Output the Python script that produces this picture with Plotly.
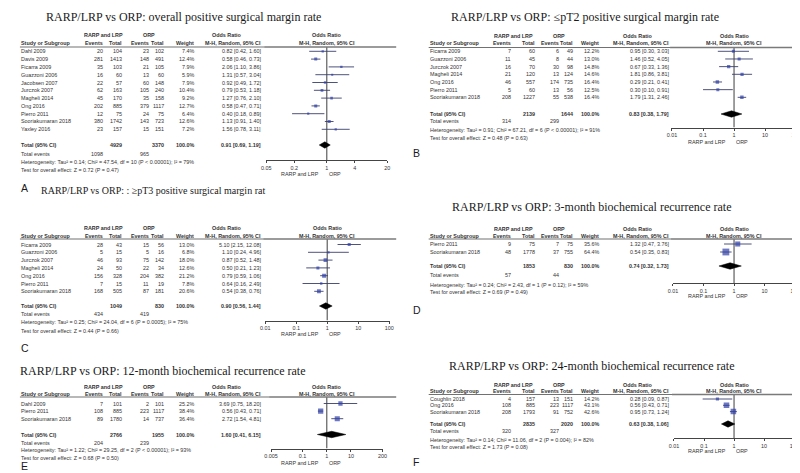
import math
import plotly.graph_objects as go

W, H = 800, 473
SANS = "Liberation Sans, Arial, sans-serif"
SERIF = "Liberation Serif, Times New Roman, serif"
INK = "#333333"
BLUE = "#2f3fa6"
CI_COL = "#3a3f6e"
FS = 5.4

# ========== Data ==========

A_study = ["Dahl 2009", "Davis 2009", "Ficarra 2009", "Guazzoni 2006", "Jacobsen 2007", "Jurczok 2007",
           "Magheli 2014", "Ong 2016", "Pierro 2011", "Sooriakumaran 2018", "Yaxley 2016"]
A_rarp_ev = [20, 281, 35, 16, 22, 62, 45, 202, 12, 380, 23]
A_rarp_n = [104, 1413, 103, 60, 57, 163, 170, 885, 75, 1742, 157]
A_orp_ev = [23, 148, 21, 13, 60, 105, 35, 379, 24, 143, 15]
A_orp_n = [102, 491, 105, 60, 148, 240, 158, 1117, 75, 723, 151]
A_weight = [7.4, 12.4, 7.9, 5.9, 7.9, 10.4, 9.2, 12.7, 6.4, 12.6, 7.2]
A_or = [0.82, 0.58, 2.06, 1.31, 0.92, 0.79, 1.27, 0.58, 0.40, 1.13, 1.56]
A_lo = [0.42, 0.46, 1.10, 0.57, 0.49, 0.53, 0.76, 0.47, 0.18, 0.91, 0.78]
A_hi = [1.60, 0.73, 3.86, 3.04, 1.72, 1.18, 2.10, 0.71, 0.89, 1.40, 3.11]
A_pooled = [0.91, 0.69, 1.19]
A_totals = [4929, 3370]
A_events = [1098, 965]
A_het = "Heterogeneity: Tau² = 0.14; Chi² = 47.54, df = 10 (P < 0.00001); I² = 79%"
A_test = "Test for overall effect: Z = 0.72 (P = 0.47)"
A_ticks = [0.05, 0.2, 1, 4, 20]

B_study = ["Ficarra 2009", "Guazzoni 2006", "Jurczok 2007", "Magheli 2014", "Ong 2016", "Pierro 2011",
           "Sooriakumaran 2018"]
B_rarp_ev = [7, 11, 16, 21, 46, 5, 208]
B_rarp_n = [60, 45, 70, 120, 557, 60, 1227]
B_orp_ev = [6, 8, 30, 13, 174, 13, 55]
B_orp_n = [49, 44, 98, 124, 735, 56, 538]
B_weight = [12.2, 13.0, 14.8, 14.6, 16.4, 12.5, 16.4]
B_or = [0.95, 1.46, 0.67, 1.81, 0.29, 0.30, 1.79]
B_lo = [0.30, 0.52, 0.33, 0.86, 0.21, 0.10, 1.31]
B_hi = [3.03, 4.05, 1.36, 3.81, 0.41, 0.91, 2.46]
B_pooled = [0.83, 0.38, 1.79]
B_totals = [2139, 1644]
B_events = [314, 299]
B_het = "Heterogeneity: Tau² = 0.91; Chi² = 67.21, df = 6 (P < 0.00001); I² = 91%"
B_test = "Test for overall effect: Z = 0.48 (P = 0.63)"
B_ticks = [0.01, 0.1, 1, 10, 100]

C_study = ["Ficarra 2009", "Guazzoni 2006", "Jurczok 2007", "Magheli 2014", "Ong 2016", "Pierro 2011",
           "Sooriakumaran 2018"]
C_rarp_ev = [28, 5, 46, 24, 156, 7, 168]
C_rarp_n = [43, 15, 93, 50, 328, 15, 505]
C_orp_ev = [15, 5, 75, 22, 204, 11, 87]
C_orp_n = [56, 16, 142, 34, 382, 19, 181]
C_weight = [13.0, 6.8, 18.0, 12.6, 21.2, 7.8, 20.6]
C_or = [5.10, 1.10, 0.87, 0.50, 0.79, 0.64, 0.54]
C_lo = [2.15, 0.24, 0.52, 0.21, 0.59, 0.16, 0.38]
C_hi = [12.08, 4.96, 1.48, 1.23, 1.06, 2.49, 0.76]
C_pooled = [0.90, 0.56, 1.44]
C_totals = [1049, 830]
C_events = [434, 419]
C_het = "Heterogeneity: Tau² = 0.25; Chi² = 24.04, df = 6 (P = 0.0005); I² = 75%"
C_test = "Test for overall effect: Z = 0.44 (P = 0.66)"
C_ticks = [0.01, 0.1, 1, 10, 100]

D_study = ["Pierro 2011", "Sooriakumaran 2018"]
D_rarp_ev = [9, 48]
D_rarp_n = [75, 1778]
D_orp_ev = [7, 37]
D_orp_n = [75, 755]
D_weight = [35.6, 64.4]
D_or = [1.32, 0.54]
D_lo = [0.47, 0.35]
D_hi = [3.76, 0.83]
D_pooled = [0.74, 0.32, 1.73]
D_totals = [1853, 830]
D_events = [57, 44]
D_het = "Heterogeneity: Tau² = 0.24; Chi² = 2.43, df = 1 (P = 0.12); I² = 59%"
D_test = "Test for overall effect: Z = 0.69 (P = 0.49)"
D_ticks = [0.01, 0.1, 1, 10, 100]

E_study = ["Dahl 2009", "Pierro 2011", "Sooriakumaran 2018"]
E_rarp_ev = [7, 108, 89]
E_rarp_n = [101, 885, 1780]
E_orp_ev = [2, 223, 14]
E_orp_n = [101, 1117, 737]
E_weight = [25.2, 38.4, 36.4]
E_or = [3.69, 0.56, 2.72]
E_lo = [0.75, 0.43, 1.54]
E_hi = [18.20, 0.71, 4.81]
E_pooled = [1.60, 0.41, 6.15]
E_totals = [2766, 1955]
E_events = [204, 239]
E_het = "Heterogeneity: Tau² = 1.22; Chi² = 29.25, df = 2 (P < 0.00001); I² = 93%"
E_test = "Test for overall effect: Z = 0.68 (P = 0.50)"
E_ticks = [0.005, 0.1, 1, 10, 200]

F_study = ["Coughlin 2018", "Ong 2016", "Sooriakumaran 2018"]
F_rarp_ev = [4, 108, 208]
F_rarp_n = [157, 885, 1793]
F_orp_ev = [13, 223, 91]
F_orp_n = [151, 1117, 752]
F_weight = [14.2, 43.1, 42.6]
F_or = [0.28, 0.56, 0.95]
F_lo = [0.09, 0.43, 0.73]
F_hi = [0.87, 0.71, 1.24]
F_pooled = [0.63, 0.38, 1.06]
F_totals = [2835, 2020]
F_events = [320, 327]
F_het = "Heterogeneity: Tau² = 0.14; Chi² = 11.06, df = 2 (P = 0.004); I² = 82%"
F_test = "Test for overall effect: Z = 1.73 (P = 0.08)"
F_ticks = [0.01, 0.1, 1, 10, 100]

# ========== Layout (pixel positions) ==========

COLS = {
    "left": dict(study=5, ev1=90, tot1=110, ev2=137.5, tot2=152, w=183, ci=251,
                 h_rarp=90, h_orp=136, h_or=215, letter=5, line_end=387),
    "right": dict(study=420, ev1=505, tot1=529, ev2=553.5, tot2=568, w=594, ci=665,
                  h_rarp=506, h_orp=552, h_or=632, letter=403, line_end=800),
}

panels = [
    dict(letter="A", col="left", title="RARP/LRP vs ORP: overall positive surgical margin rate",
         tx=171, tsize=12, fx=(255, 378), xr=(0.05, 20), ticks=A_ticks,
         y=dict(title=9, h1=27.5, h2=35, line=39, row0=43.3, step=7.8, total=137, tev=145.5,
                het=154, test=162, axis=152, lbl=165.5, letter=180),
         d=(A_study, A_rarp_ev, A_rarp_n, A_orp_ev, A_orp_n, A_weight, A_or, A_lo, A_hi,
            A_pooled, A_totals, A_events, A_het, A_test)),
    dict(letter="B", col="right", title="RARP/LRP vs ORP: ≤pT2 positive surgical margin rate",
         tx=579, tsize=12, fx=(667, 793), xr=(0.01, 100), ticks=B_ticks,
         y=dict(title=9, h1=28, h2=35, line=39.5, row0=43.3, step=7.67, total=106, tev=113.5,
                het=122, test=130, axis=119.5, lbl=133.5, letter=145),
         d=(B_study, B_rarp_ev, B_rarp_n, B_orp_ev, B_orp_n, B_weight, B_or, B_lo, B_hi,
            B_pooled, B_totals, B_events, B_het, B_test)),
    dict(letter="C", col="left", title="RARP/LRP vs ORP: : ≥pT3 positive surgical margin rat",
         tx=140, tsize=10, fx=(254, 380), xr=(0.01, 100), ticks=C_ticks,
         y=dict(title=183, h1=220, h2=228, line=231, row0=236.5, step=7.8, total=298, tev=306,
                het=314, test=323, axis=312.5, lbl=326, letter=340),
         d=(C_study, C_rarp_ev, C_rarp_n, C_orp_ev, C_orp_n, C_weight, C_or, C_lo, C_hi,
            C_pooled, C_totals, C_events, C_het, C_test)),
    dict(letter="D", col="right", title="RARP/LRP vs ORP: 3-month biochemical recurrence rate",
         tx=586, tsize=12, fx=(668, 792), xr=(0.01, 100), ticks=D_ticks,
         y=dict(title=199, h1=221, h2=228, line=231, row0=236, step=8, total=258, tev=267,
                het=276.5, test=284, axis=275, lbl=288, letter=302),
         d=(D_study, D_rarp_ev, D_rarp_n, D_orp_ev, D_orp_n, D_weight, D_or, D_lo, D_hi,
            D_pooled, D_totals, D_events, D_het, D_test)),
    dict(letter="E", col="left", title="RARP/LRP vs ORP: 12-month biochemical recurrence rate",
         tx=150, tsize=12, fx=(260, 373), xr=(0.005, 200), ticks=E_ticks,
         y=dict(title=363, h1=378.5, h2=386, line=389, row0=395.5, step=7.6, total=426.5, tev=434.5,
                het=442, test=450, axis=440.5, lbl=455, letter=458),
         d=(E_study, E_rarp_ev, E_rarp_n, E_orp_ev, E_orp_n, E_weight, E_or, E_lo, E_hi,
            E_pooled, E_totals, E_events, E_het, E_test)),
    dict(letter="F", col="right", title="RARP/LRP vs ORP: 24-month biochemical recurrence rate",
         tx=586, tsize=12, fx=(669, 791), xr=(0.01, 100), ticks=F_ticks,
         y=dict(title=358, h1=376.5, h2=383, line=386.5, row0=391, step=6.3, total=416, tev=423,
                het=431.5, test=439, axis=430, lbl=442.5, letter=454),
         d=(F_study, F_rarp_ev, F_rarp_n, F_orp_ev, F_orp_n, F_weight, F_or, F_lo, F_hi,
            F_pooled, F_totals, F_events, F_het, F_test)),
]

annotations = []
shapes = []
fig = go.Figure()


def add_text(x, y, s, anchor="left", size=FS, bold=False, family=SANS, color=INK):
    annotations.append(dict(
        x=x / W, y=1 - y / H, xref="paper", yref="paper",
        text=f"<b>{s}</b>" if bold else s, showarrow=False,
        xanchor=anchor, yanchor="middle", borderpad=0,
        font=dict(family=family, size=size, color=color)))


def hline(x0, x1, y, color, width):
    shapes.append(dict(type="line", xref="paper", yref="paper",
                       x0=x0 / W, x1=x1 / W, y0=1 - y / H, y1=1 - y / H,
                       line=dict(color=color, width=width)))


# ========== Build panels ==========

for k, p in enumerate(panels, start=1):
    c = COLS[p["col"]]
    y = p["y"]
    (study, ev1, n1, ev2, n2, weight, odds, lo, hi, pooled, totals, events, het, test) = p["d"]

    # title + panel letter
    add_text(p["tx"], y["title"], p["title"], anchor="center", size=p["tsize"], family=SERIF, color="#1a1a1a")
    add_text(c["letter"], y["letter"], p["letter"], size=10.5, color="#1a1a1a")

    # table headers
    add_text(c["h_rarp"], y["h1"], "RARP and LRP", anchor="center", bold=True)
    add_text(c["h_orp"], y["h1"], "ORP", anchor="center", bold=True)
    add_text(c["h_or"], y["h1"], "Odds Ratio", anchor="center", bold=True)
    add_text(c["study"], y["h2"], "Study or Subgroup", bold=True)
    add_text(c["ev1"], y["h2"], "Events", anchor="right", bold=True)
    add_text(c["tot1"], y["h2"], "Total", anchor="right", bold=True)
    add_text(c["ev2"], y["h2"], "Events", anchor="right", bold=True)
    add_text(c["tot2"], y["h2"], "Total", anchor="right", bold=True)
    add_text(c["w"], y["h2"], "Weight", anchor="right", bold=True)
    add_text(c["ci"], y["h2"], "M-H, Random, 95% CI", anchor="right", bold=True)

    fx0, fx1 = p["fx"]
    lg0, lg1 = math.log10(p["xr"][0]), math.log10(p["xr"][1])
    xnull = fx0 + (fx1 - fx0) * (0 - lg0) / (lg1 - lg0)
    add_text(xnull, y["h1"], "Odds Ratio", anchor="center", bold=True)
    add_text(xnull, y["h2"], "M-H, Random, 95% CI", anchor="center", bold=True)

    hline(c["study"], fx0 - 2, y["line"], "#333333", 0.7)
    hline(fx0 - 2, c["line_end"], y["line"], "#7a7a7a", 1.4)

    rows = [y["row0"] + i * y["step"] for i in range(len(study))]
    for i, ry in enumerate(rows):
        add_text(c["study"], ry, study[i])
        add_text(c["ev1"], ry, str(ev1[i]), anchor="right")
        add_text(c["tot1"], ry, str(n1[i]), anchor="right")
        add_text(c["ev2"], ry, str(ev2[i]), anchor="right")
        add_text(c["tot2"], ry, str(n2[i]), anchor="right")
        add_text(c["w"], ry, f"{weight[i]:.1f}%", anchor="right")
        add_text(c["ci"], ry, f"{odds[i]:.2f} [{lo[i]:.2f}, {hi[i]:.2f}]", anchor="right")

    add_text(c["study"], y["total"], "Total (95% CI)", bold=True)
    add_text(c["tot1"], y["total"], str(totals[0]), anchor="right", bold=True)
    add_text(c["tot2"], y["total"], str(totals[1]), anchor="right", bold=True)
    add_text(c["w"], y["total"], "100.0%", anchor="right", bold=True)
    add_text(c["ci"], y["total"], f"{pooled[0]:.2f} [{pooled[1]:.2f}, {pooled[2]:.2f}]", anchor="right", bold=True)
    add_text(c["study"], y["tev"], "Total events")
    add_text(c["ev1"], y["tev"], str(events[0]), anchor="right")
    add_text(c["ev2"], y["tev"], str(events[1]), anchor="right")
    add_text(c["study"], y["het"], het)
    add_text(c["study"], y["test"], test)

    add_text(xnull - 7, y["lbl"], "RARP and LRP", anchor="right")
    add_text(xnull + 1, y["lbl"], "ORP")

    # forest plot axes
    xa = "x" if k == 1 else f"x{k}"
    ya = "y" if k == 1 else f"y{k}"
    fig.update_layout(**{
        ("xaxis" if k == 1 else f"xaxis{k}"): dict(
            domain=[fx0 / W, fx1 / W], anchor=ya, type="log",
            range=[lg0, lg1],
            tickvals=p["ticks"], ticktext=[f"{t:g}" for t in p["ticks"]],
            ticks="outside", ticklen=2.5, tickwidth=0.8, tickcolor="#444",
            showline=True, linecolor="#444", linewidth=0.8,
            showgrid=False, zeroline=False, fixedrange=True,
            tickfont=dict(family=SANS, size=FS, color=INK)),
        ("yaxis" if k == 1 else f"yaxis{k}"): dict(
            domain=[1 - y["axis"] / H, 1 - y["line"] / H], anchor=xa,
            range=[y["axis"], y["line"]], visible=False, fixedrange=True),
    })

    # line of no effect
    fig.add_trace(go.Scatter(x=[1, 1], y=[y["line"], y["axis"]], mode="lines",
                             line=dict(color="#6a6a6a", width=1.3),
                             xaxis=xa, yaxis=ya, showlegend=False, hoverinfo="skip"))

    # study estimates
    fig.add_trace(go.Scatter(
        x=odds, y=rows, mode="markers",
        marker=dict(symbol="square", color=BLUE, line_width=0,
                    size=[max(2.0, 0.85 * math.sqrt(w)) for w in weight]),
        error_x=dict(type="data", symmetric=False,
                     array=[h - o for h, o in zip(hi, odds)],
                     arrayminus=[o - l for o, l in zip(odds, lo)],
                     color=CI_COL, thickness=0.9, width=0),
        xaxis=xa, yaxis=ya, showlegend=False, hoverinfo="skip"))

    # pooled diamond
    ty = y["total"]
    fig.add_trace(go.Scatter(
        x=[pooled[1], pooled[0], pooled[2], pooled[0], pooled[1]],
        y=[ty, ty - 3.2, ty, ty + 3.2, ty],
        mode="lines", fill="toself", fillcolor="black",
        line=dict(color="black", width=0.5),
        xaxis=xa, yaxis=ya, showlegend=False, hoverinfo="skip"))

fig.update_layout(
    width=W, height=H,
    margin=dict(l=0, r=0, t=0, b=0),
    paper_bgcolor="white", plot_bgcolor="white",
    showlegend=False,
    annotations=annotations,
    shapes=shapes,
)

fig.write_html("out.html")
